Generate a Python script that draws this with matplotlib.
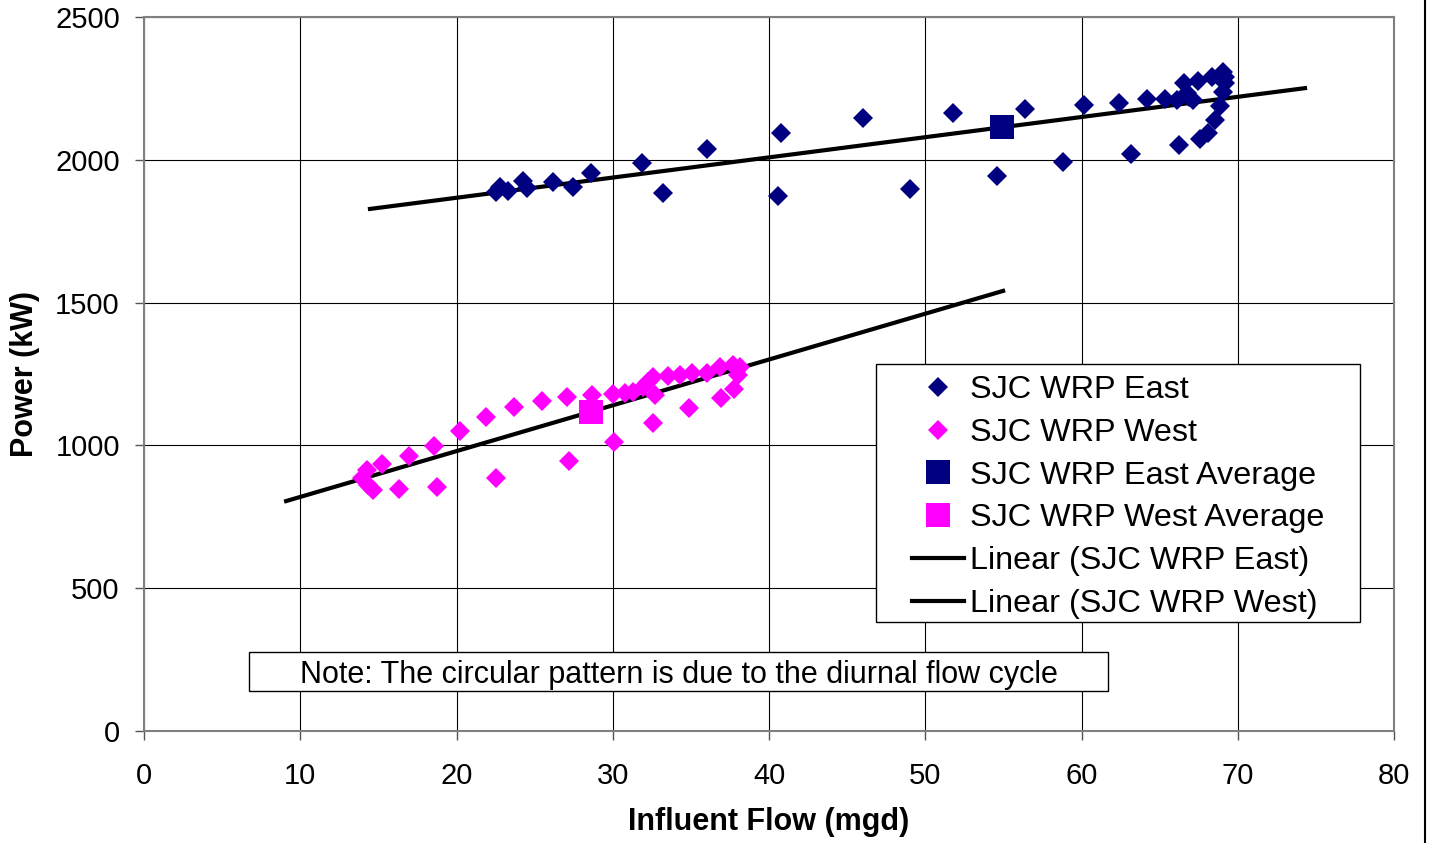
import matplotlib
matplotlib.use("Agg")
import matplotlib.pyplot as plt
from matplotlib.patches import Rectangle
from matplotlib.lines import Line2D

plt.rcParams['font.family'] = ['Liberation Sans', 'DejaVu Sans']

# East plant readings (influent flow mgd, power kW)
east_flow = [22.53, 22.78, 23.32, 24.24, 24.49, 26.15, 27.48, 28.59, 31.87, 33.20,
             36.01, 40.60, 40.75, 46.04, 49.02, 51.76, 54.61, 56.38, 58.83, 60.14,
             62.42, 63.17, 64.21, 65.34, 66.09, 66.24, 66.58, 66.73, 67.16, 67.47,
             67.58, 68.11, 68.33, 68.54, 68.86, 69.04, 69.08, 69.18, 69.20, 66.90]
east_power = [1888, 1906, 1891, 1926, 1900, 1923, 1906, 1955, 1990, 1885,
              2039, 1873, 2093, 2146, 1899, 2163, 1942, 2179, 1991, 2192,
              2200, 2020, 2214, 2214, 2209, 2052, 2268, 2233, 2209, 2277,
              2072, 2095, 2291, 2139, 2188, 2308, 2238, 2268, 2290, 2220]

# West plant readings
west_flow = [13.93, 14.25, 14.36, 14.68, 15.21, 16.32, 16.96, 18.56, 18.75, 20.22,
             21.87, 22.51, 23.66, 25.45, 27.07, 27.22, 28.69, 30.04, 30.08, 30.78,
             31.32, 31.96, 32.28, 32.56, 32.60, 32.70, 33.56, 34.30, 34.86, 35.05,
             36.01, 36.86, 36.93, 37.71, 37.76, 38.04, 38.14]
west_power = [885, 914, 861, 844, 935, 847, 963, 998, 855, 1051,
              1098, 885, 1133, 1155, 1168, 946, 1176, 1180, 1013, 1182,
              1188, 1206, 1223, 1077, 1238, 1176, 1243, 1247, 1130, 1252,
              1252, 1276, 1167, 1282, 1197, 1247, 1276]

# averages
east_avg = (54.93, 2115)
west_avg = (28.59, 1118)

# linear trend lines (end points as drawn)
east_trend_x = [14.46, 74.30]
east_trend_y = [1828, 2251]
west_trend_x = [9.09, 54.98]
west_trend_y = [805, 1541]

xticks = [0, 10, 20, 30, 40, 50, 60, 70, 80]
yticks = [0, 500, 1000, 1500, 2000, 2500]

navy = '#000080'
magenta = '#FF00FF'
ms_d = 10
ms_s = 17

fig = plt.figure(figsize=(14.32, 8.43), dpi=100)
ax = fig.add_axes([0.1006, 0.1329, 0.8729, 0.8469])

ax.plot(east_trend_x, east_trend_y, color='black', lw=3.0, zorder=3)
ax.plot(west_trend_x, west_trend_y, color='black', lw=3.0, zorder=3)
ax.plot(east_flow, east_power, 'D', color=navy, ms=ms_d, mew=0, zorder=4)
ax.plot(west_flow, west_power, 'D', color=magenta, ms=ms_d, mew=0, zorder=4)
ax.plot([east_avg[0]], [east_avg[1]], 's', color=navy, ms=ms_s, mew=0, zorder=5)
ax.plot([west_avg[0]], [west_avg[1]], 's', color=magenta, ms=ms_s, mew=0, zorder=5)

ax.set_xlim(0, 80)
ax.set_ylim(0, 2500)
ax.set_xticks(xticks)
ax.set_yticks(yticks)
ax.grid(True, color='black', lw=0.8)
ax.set_axisbelow(True)
for s in ax.spines.values():
    s.set_color('#808080')
    s.set_linewidth(1.5)
ax.tick_params(direction='out', length=6.5, width=1, color='#555555', labelsize=21)
ax.tick_params(axis='x', pad=16)
ax.tick_params(axis='y', pad=11)

ax.set_xlabel('Influent Flow (mgd)', fontsize=22, fontweight='bold')
ax.xaxis.set_label_coords(0.5, -0.106)
fig.text(25 / 1432, 1 - 374 / 843, 'Power (kW)', rotation=90, ha='center', va='center',
         fontsize=22, fontweight='bold')

# legend frame drawn separately so the inner spacing can match
ax.add_patch(Rectangle((0.5856, 0.1527), 0.3872, 0.3613, transform=ax.transAxes,
                       facecolor='white', edgecolor='black', lw=1.0, zorder=9))
handles = [
    Line2D([], [], ls='none', marker='D', color=navy, ms=ms_d, mew=0),
    Line2D([], [], ls='none', marker='D', color=magenta, ms=ms_d, mew=0),
    Line2D([], [], ls='none', marker='s', color=navy, ms=ms_s, mew=0),
    Line2D([], [], ls='none', marker='s', color=magenta, ms=ms_s, mew=0),
    Line2D([], [], color='black', lw=3.0),
    Line2D([], [], color='black', lw=3.0),
]
labels = ['SJC WRP East', 'SJC WRP West', 'SJC WRP East Average',
          'SJC WRP West Average', 'Linear (SJC WRP East)', 'Linear (SJC WRP West)']
leg = ax.legend(handles, labels, loc='upper left', bbox_to_anchor=(0.6144, 0.4984),
                fontsize=23.3, frameon=False, handlelength=1.6, handletextpad=0.18,
                labelspacing=0.395, borderpad=0, borderaxespad=0)
leg.set_zorder(10)

ax.add_patch(Rectangle((0.084, 0.056), 0.6872, 0.0546, transform=ax.transAxes,
                       facecolor='white', edgecolor='black', lw=1.0, zorder=9))
ax.text(0.4276, 0.0778, 'Note: The circular pattern is due to the diurnal flow cycle',
        transform=ax.transAxes, ha='center', va='center', fontsize=22, zorder=10)

fig.add_artist(Line2D([0.9951, 0.9951], [0, 1], color='black', lw=1.5,
                      transform=fig.transFigure))

fig.savefig('out.png', dpi=100)
